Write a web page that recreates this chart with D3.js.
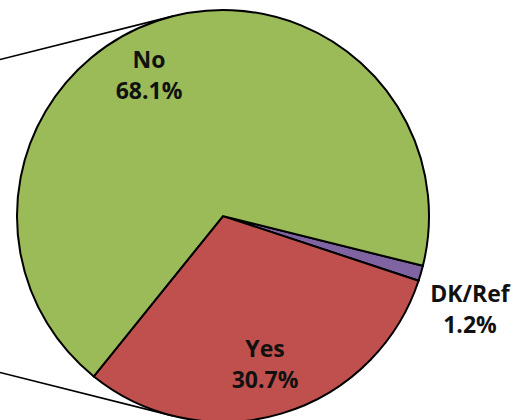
<!DOCTYPE html>
<html>
<head>
<meta charset="utf-8">
<script src="https://cdn.jsdelivr.net/npm/d3@7"></script>
<style>
  html, body { margin: 0; padding: 0; background: #fff; }
  svg { display: block; }
</style>
</head>
<body>
<svg id="chart"></svg>
<script>
// data
const categories = ['DK/Ref', 'Yes', 'No']
const values = [1.2, 30.7, 68.1]
const colors = ['#8064A2', '#C0504D', '#9BBB59']

const w = 527, h = 420
const cx = 223, cy = 216, r = 206
// first slice (DK/Ref) starts a little below 3 o'clock
const start = 104 * Math.PI / 180

// label spots, offset from the pie centre
const labelOffsets = [[247, 86], [42, 141], [-74, -148]]

const svg = d3.select('#chart')
    .attr('width', w)
    .attr('height', h)
    .attr('viewBox', '0 0 ' + w + ' ' + h)

const pie = d3.pie()
    .sort(null)
    .value(d => d)
    .startAngle(start)
    .endAngle(start + 2 * Math.PI)

const arc = d3.arc()
    .innerRadius(0)
    .outerRadius(r)

//connector lines from the pie off to the left (tangents from a far point)
const farX = cx - 847
const half = Math.asin(r / (cx - farX))
;[-1, 1].forEach(s => {
    // tangent point on the circle
    const px = cx - r * Math.sin(half)
    const py = cy + s * r * Math.cos(half)
    const slope = (py - cy) / (px - farX)
    svg.append('line')
        .attr('x1', 0)
        .attr('y1', py - slope * px)
        .attr('x2', px)
        .attr('y2', py)
        .attr('stroke', '#000')
        .attr('stroke-width', 1.7)
})

//slices
const g = svg.append('g')
    .attr('transform', 'translate(' + cx + ',' + cy + ')')

g.selectAll('path')
    .data(pie(values))
    .enter()
    .append('path')
    .attr('d', arc)
    .attr('fill', (d, i) => colors[i])
    .attr('stroke', '#000')
    .attr('stroke-width', 2)
    .attr('stroke-linejoin', 'miter')

//labels
const labels = g.selectAll('text.lab')
    .data(pie(values))
    .enter()
    .append('text')
    .attr('class', 'lab')
    .attr('text-anchor', 'middle')
    .attr('font-family', "'Open Sans', 'Noto Sans', sans-serif")
    .attr('font-weight', 700)
    .attr('font-size', '23px')
    .attr('fill', '#111')
    .attr('transform', (d, i) => 'translate(' + labelOffsets[i][0] + ',' + labelOffsets[i][1] + ')')

labels.append('tspan')
    .attr('x', 0)
    .attr('y', 0)
    .text((d, i) => categories[i])

labels.append('tspan')
    .attr('x', 0)
    .attr('y', 31)
    .text(d => d.value.toFixed(1) + '%')
</script>
</body>
</html>
